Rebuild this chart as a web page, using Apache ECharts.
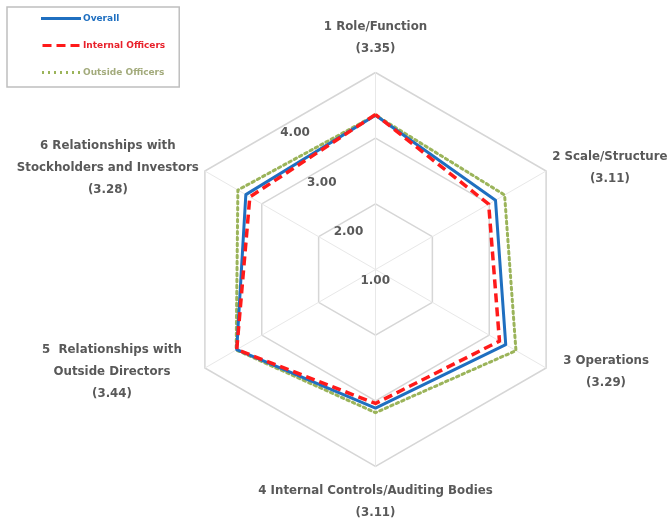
<!DOCTYPE html>
<html>
<head>
<meta charset="utf-8">
<script src="https://cdn.jsdelivr.net/npm/echarts@6/dist/echarts.min.js"></script>
<style>
  html, body { margin: 0; padding: 0; background: #ffffff; }
  #chart { width: 670px; height: 519px; }
</style>
</head>
<body>
<div id="chart"></div>
<script>
// Evaluation dimensions (clockwise from the top)
const categories = [
  '1 Role/Function',
  '2 Scale/Structure',
  '3 Operations',
  '4 Internal Controls/Auditing Bodies',
  '5  Relationships with\nOutside Directors',
  '6 Relationships with\nStockholders and Investors'
];

// Average scores per group
const overall  = [3.35, 3.11, 3.29, 3.11, 3.44, 3.28];
const internal = [3.36, 2.99, 3.18, 3.04, 3.44, 3.21];
const outside  = [3.35, 3.27, 3.47, 3.18, 3.45, 3.42];

// Scale
const scaleMin = 1;
const scaleMax = 4;
const tickLabels = ['1.00', '2.00', '3.00', '4.00'];

const seriesNames = ['Overall', 'Internal Officers', 'Outside Officers'];
const colors = { 'Overall': '#1f6fc0', 'Internal Officers': '#ff1a1a', 'Outside Officers': '#9bb45a' };
const textColors = { 'Overall': '#1f6fc0', 'Internal Officers': '#e8202a', 'Outside Officers': '#a3ab7c' };

const labelFont = 'DejaVu Sans';
const grayText = '#595959';

// ECharts lays radar indicators out counter-clockwise; reorder so the
// dimensions run clockwise starting from the top.
const order = categories.map((_, i) => (categories.length - i) % categories.length);
const cw = arr => order.map(i => arr[i]);

// Axis names: dimension title plus the overall score in brackets
const axisNames = categories.map((c, i) => c + '\n(' + overall[i].toFixed(2) + ')');

// Name block layout: horizontal spacing from the axis end and per-line heights
const nameSide = [
  { lh: [10, 34] },
  { lh: [22, 22] },
  { left: 11, lh: [22, 22] },
  { lh: [34, 10] },
  { right: 17, lh: [22, 22, 22] },
  { lh: [22, 22, 22] }
];

const nameRich = {};
axisNames.forEach((name, i) => {
  const s = nameSide[i];
  name.split('\n').forEach((_, j) => {
    nameRich['n' + i + 'l' + j] = {
      align: 'center',
      color: grayText,
      fontFamily: labelFont,
      fontSize: 11.8,
      fontWeight: 'bold',
      lineHeight: s.lh[j],
      padding: [0, s.right || 0, 0, s.left || 0]
    };
  });
});

const chart = echarts.init(document.getElementById('chart'), null, { renderer: 'canvas' });

// Legend glyphs: solid, dashed and dotted strokes
const icons = {
  'Overall': 'path://M0,0H40V3H0Z',
  'Internal Officers': 'path://M0,0H9V3H0Z M14,0H23V3H14Z M28,0H37V3H28Z',
  'Outside Officers': 'path://M0,0H2V3H0Z M6,0H8V3H6Z M12,0H14V3H12Z M18,0H20V3H18Z M24,0H26V3H24Z M30,0H32V3H30Z M36,0H38V3H36Z'
};

const option = {
  backgroundColor: '#ffffff',
  animation: false,
  legend: {
    orient: 'vertical',
    left: 7,
    top: 7,
    padding: [7, 14, 10, 34],
    itemGap: 18,
    itemWidth: 40,
    itemHeight: 3,
    borderColor: '#bfbfbf',
    borderWidth: 1.5,
    borderRadius: 0,
    selectedMode: false,
    textStyle: { fontFamily: labelFont, fontSize: 9, fontWeight: 'bold', padding: [0, 0, 0, -3] },
    data: seriesNames.map(n => ({
      name: n,
      icon: icons[n],
      itemStyle: { color: colors[n] },
      textStyle: { color: textColors[n] }
    }))
  },
  radar: {
    center: [375.5, 269.5],
    radius: 197,
    startAngle: 90,
    shape: 'polygon',
    splitNumber: 3,
    indicator: cw(axisNames.map(name => ({ name: name, min: scaleMin, max: scaleMax }))),
    nameGap: 7,
    axisName: {
      color: grayText,
      fontFamily: labelFont,
      fontSize: 11.8,
      fontWeight: 'bold',
      lineHeight: 22,
      formatter: name => {
        const i = axisNames.indexOf(name);
        return name.split('\n').map((line, j) => '{n' + i + 'l' + j + '|' + line + '}').join('\n');
      },
      rich: nameRich
    },
    axisLine: { lineStyle: { color: '#e8e8e8', width: 1 } },
    splitLine: { lineStyle: { color: '#d6d6d6', width: 1.5 } },
    splitArea: { show: false },
    axisTick: { show: false },
    axisLabel: { show: false }
  },
  // Value labels laid out along a slanted radius
  polar: { center: [390, 281], radius: 168 },
  angleAxis: {
    type: 'value',
    startAngle: 118.5,
    show: false
  },
  radiusAxis: {
    type: 'value',
    min: scaleMin,
    max: scaleMax,
    interval: 1,
    axisLine: { show: false },
    axisTick: { show: false },
    splitLine: { show: false },
    axisLabel: {
      show: true,
      margin: 0,
      color: grayText,
      fontFamily: labelFont,
      fontSize: 12,
      fontWeight: 'bold',
      formatter: v => tickLabels[Math.round(v - scaleMin)]
    }
  },
  series: [{
    type: 'radar',
    radarIndex: 0,
    symbol: 'none',
    data: [
      {
        name: 'Outside Officers',
        value: cw(outside),
        lineStyle: { color: colors['Outside Officers'], width: 3, type: [2.5, 3.5], cap: 'round' },
        itemStyle: { color: colors['Outside Officers'] }
      },
      {
        name: 'Overall',
        value: cw(overall),
        lineStyle: { color: colors['Overall'], width: 3, type: 'solid' },
        itemStyle: { color: colors['Overall'] }
      },
      {
        name: 'Internal Officers',
        value: cw(internal),
        lineStyle: { color: colors['Internal Officers'], width: 3.5, type: [9, 5] },
        itemStyle: { color: colors['Internal Officers'] }
      }
    ]
  }]
};

chart.setOption(option);
</script>
</body>
</html>
